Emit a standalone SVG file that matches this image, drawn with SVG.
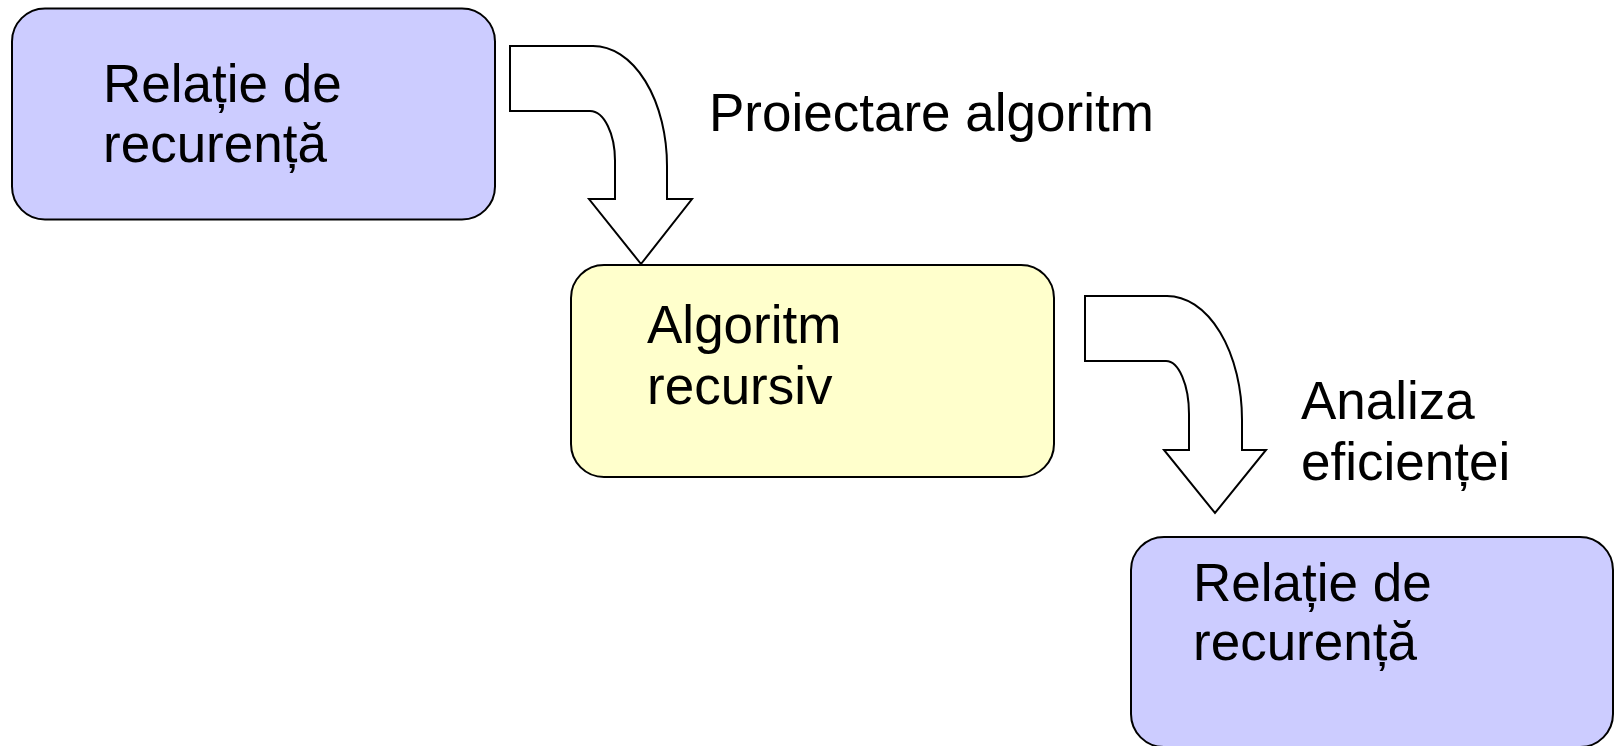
<svg xmlns="http://www.w3.org/2000/svg" width="1615" height="746" viewBox="0 0 1615 746">
<style>
.box{stroke:#000;stroke-width:2}
.blue{fill:#CCCCFF}
.yellow{fill:#FFFFCC}
.arrow{fill:#fff;stroke:#000;stroke-width:2;stroke-linejoin:miter}
text{font-family:"Liberation Sans",Arial,sans-serif;font-size:53px;fill:#000}
</style>
<rect width="1615" height="746" fill="#fff"/>
<g id="node-rel1">
<rect class="box blue" x="12" y="8.5" width="483" height="211" rx="33" ry="33"/>
<text x="103" y="102">Relație de</text>
<text x="103" y="162">recurență</text>
</g>
<g id="node-alg">
<rect class="box yellow" x="571" y="265" width="483" height="212" rx="33" ry="33"/>
<text x="647" y="343">Algoritm</text>
<text x="647" y="404">recursiv</text>
</g>
<g id="node-rel2">
<rect class="box blue" x="1131" y="537" width="482" height="210" rx="33" ry="33"/>
<text x="1193" y="601">Relație de</text>
<text x="1193" y="660">recurență</text>
</g>
<g id="connectors">
<path class="arrow" d="M510,46 L593,46 A74,120 0 0 1 667,166 L667,199 L692,199 L641,264 L589,199 L615,199 L615,162 A25,50 0 0 0 590,111 L510,111 Z"/>
<path class="arrow" d="M1085,296 L1167,296 A75,124 0 0 1 1242,420 L1242,450 L1266,450 L1215,513 L1164,450 L1189,450 L1189,414 A23,53 0 0 0 1166,361 L1085,361 Z"/>
<text x="709" y="131">Proiectare algoritm</text>
<text x="1301" y="419">Analiza</text>
<text x="1301" y="480">eficienței</text>
</g>
</svg>
